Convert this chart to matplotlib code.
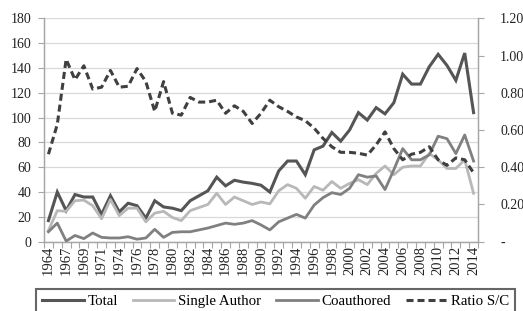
import matplotlib
matplotlib.use("Agg")
import matplotlib.pyplot as plt
import numpy as np

plt.rcParams['font.family'] = ['Liberation Serif', 'DejaVu Serif']

years = ["1964", "1966", "1967", "1968", "1969", "1970", "1971", "1972", "1974", "1975",
         "1976", "1977", "1978", "1979", "1980", "1981", "1982", "1983", "1984", "1985",
         "1986", "1987", "1988", "1989", "1990", "1991", "1992", "1993", "1994", "1995",
         "1996", "1997", "1998", "1999", "2000", "2001", "2002", "2003", "2004", "2005",
         "2006", "2007", "2008", "2009", "2010", "2011", "2012", "2013", "2014"]

total = [17, 40, 25, 38, 36, 36, 22, 37, 24, 31,
         29, 19, 33, 28, 27, 25, 33, 37, 41, 52,
         45, 49.5, 48, 47, 45.5, 40, 57, 65, 65, 54,
         74, 77, 88, 81, 90, 104, 98, 108, 103, 112,
         135, 127, 127, 141, 151, 142, 130, 152, 104]

single = [9, 25, 24.5, 33, 33.5, 29, 18.5, 34, 21, 27,
          27, 16, 23, 24.5, 19.5, 17, 25, 27.5, 30, 39,
          30, 36, 33, 30, 32, 30.5, 41, 46, 43, 35,
          44.5, 41.5, 48.5, 43, 47, 50, 46, 55, 61, 54,
          60, 61, 61, 71, 66, 59, 59, 66, 39]

coauthored = [8, 15, 0.5, 5, 2.5, 7, 3.5, 3, 3, 4,
              2, 3, 10, 3.5, 7.5, 8, 8, 9.5, 11, 13,
              15, 14, 15, 17, 13.5, 9.5, 16, 19, 22, 19,
              29.5, 35.5, 39.5, 38, 43, 54, 52, 53, 42, 58,
              75, 66, 66, 70, 85, 83, 71, 86, 65]

ratio = [0.47, 0.63, 0.98, 0.87, 0.945, 0.82, 0.83, 0.92, 0.83, 0.835,
         0.93, 0.86, 0.70, 0.86, 0.69, 0.68, 0.775, 0.75, 0.75, 0.76,
         0.69, 0.73, 0.70, 0.635, 0.69, 0.76, 0.725, 0.70, 0.67, 0.65,
         0.61, 0.555, 0.51, 0.48, 0.48, 0.475, 0.465, 0.52, 0.59, 0.50,
         0.44, 0.47, 0.48, 0.51, 0.44, 0.41, 0.45, 0.44, 0.37]

left_ticks = [0, 20, 40, 60, 80, 100, 120, 140, 160, 180]
right_ticks = [0, 0.2, 0.4, 0.6, 0.8, 1.0, 1.2]
right_labels = ["-", "0.20", "0.40", "0.60", "0.80", "1.00", "1.20"]

W, H = 523, 311
fig = plt.figure(figsize=(W / 100, H / 100), dpi=100)
ax = fig.add_axes([44 / W, 1 - 241.7 / H, (478 - 44) / W, (241.7 - 18.3) / H])
ax2 = ax.twinx()

x = np.arange(len(years))
ax.plot(x, total, color="#555555", lw=2.2, solid_joinstyle="miter", label="Total", zorder=3)
ax.plot(x, single, color="#b8b8b8", lw=2.0, label="Single Author", zorder=3)
ax.plot(x, coauthored, color="#808080", lw=2.0, label="Coauthored", zorder=3)
ax2.plot(x, ratio, color="#404040", lw=2.2, linestyle=(0, (2.3, 1.3)), label="Ratio S/C", zorder=3)

ax.set_xlim(-0.5, len(years) - 0.5)
ax.set_ylim(0, 180)
ax2.set_ylim(0, 1.2)

ax.set_yticks(left_ticks)
ax.set_yticklabels([str(t) for t in left_ticks])
ax2.set_yticks(right_ticks)
ax2.set_yticklabels(right_labels)

ax.set_xticks(x[::2])
ax.set_xticklabels(years[::2], rotation=90)
ax.set_xticks(np.arange(-0.5, len(years), 1), minor=True)

ax.grid(axis="y", color="#d9d9d9", lw=0.9, zorder=0)
ax.set_axisbelow(True)

spine_col = "#a6a6a6"
for a in (ax, ax2):
    a.spines["top"].set_visible(False)
    for s in ("left", "right", "bottom"):
        a.spines[s].set_color(spine_col)
        a.spines[s].set_linewidth(0.9)

ax.tick_params(axis="y", which="major", length=4, width=0.8, color=spine_col,
               labelsize=10, pad=5, labelcolor="#222222")
ax.tick_params(axis="x", which="major", length=0, labelsize=10.5, pad=3, labelcolor="#222222")
ax.tick_params(axis="x", which="minor", length=4, width=0.8, color=spine_col)
ax2.tick_params(axis="y", length=4, width=0.8, color=spine_col, labelsize=10,
                pad=12, labelcolor="#222222")

handles = ax.get_lines() + ax2.get_lines()
leg = fig.legend(handles, [h.get_label() for h in handles], loc="upper left",
                 bbox_to_anchor=(36 / W, 1 - 289 / H), ncol=4, fontsize=10.7,
                 frameon=True, fancybox=False, handlelength=2.8, handletextpad=0.25,
                 columnspacing=1.0, borderpad=0.4, borderaxespad=0)
leg.get_frame().set_edgecolor("#404040")
leg.get_frame().set_linewidth(1.5)

fig.savefig("out.png", dpi=100)
